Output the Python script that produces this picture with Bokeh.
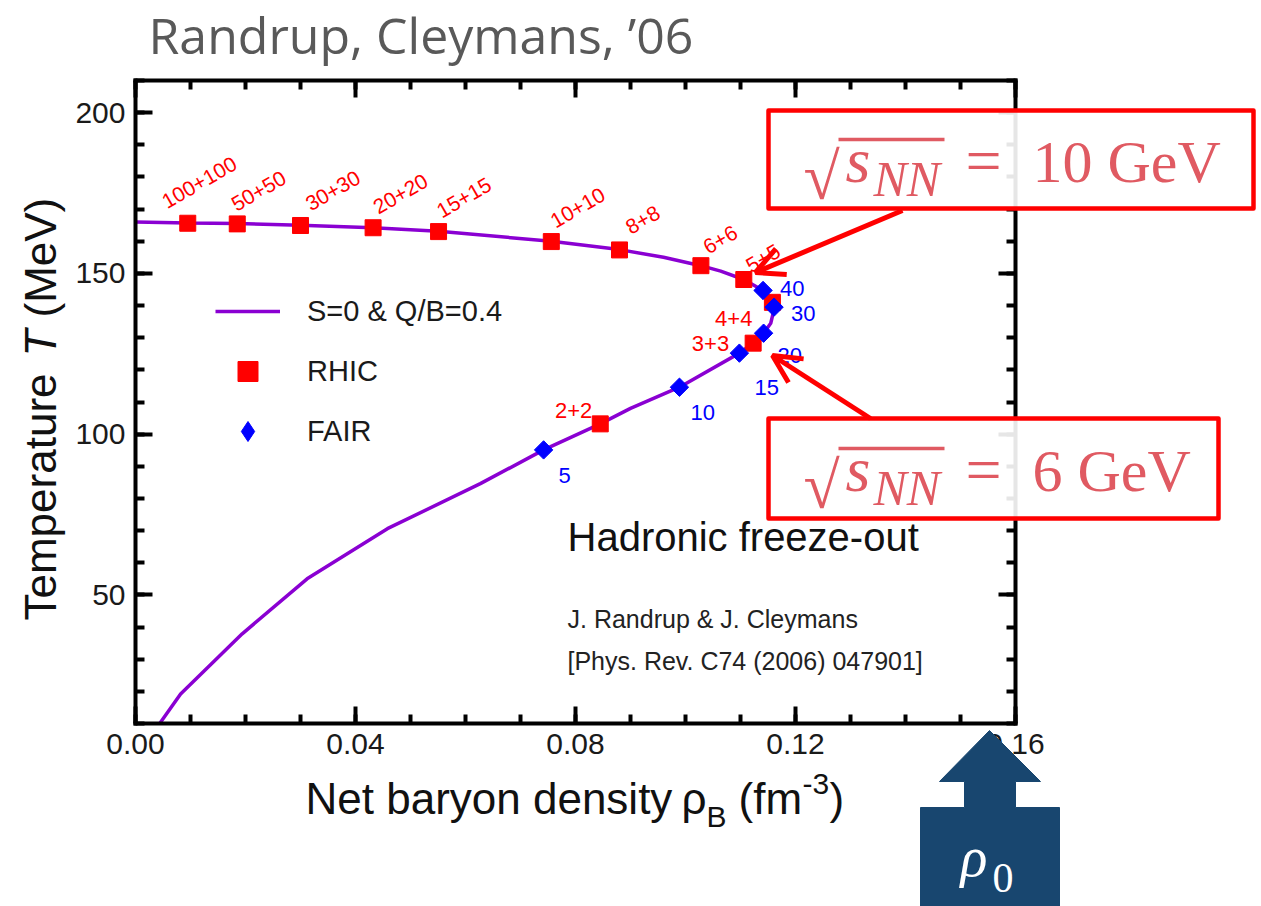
from math import cos, pi, sin

from bokeh.core.properties import value
from bokeh.embed import file_html
from bokeh.models import (Arrow, ColumnDataSource, Label, Legend, LegendItem, LinearAxis,
                          NumeralTickFormatter, OpenHead, PolyAnnotation, Range1d,
                          SingleIntervalTicker)
from bokeh.plotting import figure
from bokeh.resources import INLINE

# freeze-out curve S=0 & Q/B=0.4 (rho_B in fm^-3, T in MeV)
curve_rho = [0.0000, 0.0095, 0.0185, 0.0300, 0.0432, 0.0551, 0.0756, 0.0880, 0.0960,
             0.1028, 0.1064, 0.1106, 0.1141, 0.1158, 0.1162, 0.1155, 0.1142, 0.1123,
             0.1098, 0.0989, 0.0900, 0.0845, 0.0742, 0.0627, 0.0458, 0.0312, 0.0194,
             0.0082, 0.0044]
curve_T = [166.0, 165.7, 165.5, 165.0, 164.2, 163.1, 160.0, 157.4, 155.0,
           152.4, 150.7, 148.1, 144.7, 141.8, 139.5, 134.5, 131.4, 128.3,
           125.2, 114.6, 108.0, 103.2, 95.1, 84.6, 70.6, 55.0, 37.9,
           19.2, 10.0]

rhic_labels = ["100+100", "50+50", "30+30", "20+20", "15+15", "10+10", "8+8", "6+6",
               "5+5", "4+4", "3+3", "2+2"]
rhic_rho = [0.0095, 0.0185, 0.0300, 0.0432, 0.0551, 0.0756, 0.0880, 0.1028,
            0.1106, 0.1158, 0.1123, 0.0845]
rhic_T = [165.6, 165.4, 164.9, 164.2, 163.0, 159.9, 157.3, 152.4,
          148.1, 141.0, 128.3, 103.2]

fair_labels = ["40", "30", "20", "15", "10", "5"]
fair_rho = [0.1141, 0.1161, 0.1142, 0.1098, 0.0989, 0.0742]
fair_T = [144.7, 139.5, 131.4, 125.2, 114.6, 95.1]

x_ticks_step = 0.04
y_ticks_step = 50

# label placement relative to the markers, in pixels (right / down)
rhic_dx = [-24, -4, 7, 2, 0, 1, 8, 4, 4, -20, -24, -8]
rhic_dy = [-20, -18, -20, -19, -19, -19, -21, -17, -12, 16, 0, -13]
rhic_angle = [pi / 6] * 9 + [0] * 3
rhic_align = ["left"] * 9 + ["right"] * 3
rhic_size = ["21px"] * 9 + ["22px"] * 3
fair_dx = [17, 17, 14, 15, 11, 15]
fair_dy = [-2, 6, 22, 34, 25, 26]

W, H = 1261, 906
X_LO, X_HI = 0.0, 0.16
T_LO, T_HI = 10.0, 210.0
# edges of the plot box on the page, pixels
PX_L, PX_R, PX_T, PX_B = 135, 1015, 80, 723
SX = (X_HI - X_LO) / (PX_R - PX_L)
SY = (T_HI - T_LO) / (PX_B - PX_T)


def gx(px):
    return X_LO + (px - PX_L) * SX


def gy(py):
    return T_LO + (PX_B - py) * SY


# the frame fills the whole page; the box axes sit at fixed locations inside it
p = figure(frame_width=W, frame_height=H,
           x_range=Range1d(gx(0), gx(W)), y_range=Range1d(gy(H), gy(0)),
           toolbar_location=None, output_backend="svg", min_border=0,
           x_axis_type=None, y_axis_type=None)
p.grid.visible = False
p.outline_line_color = None
p.background_fill_color = "white"
p.border_fill_color = "white"

xt = SingleIntervalTicker(interval=x_ticks_step, num_minor_ticks=4)
yt = SingleIntervalTicker(interval=y_ticks_step, num_minor_ticks=5)
box_axes = [
    (LinearAxis(ticker=xt, formatter=NumeralTickFormatter(format="0.00"),
                fixed_location=T_LO, bounds=(X_LO, X_HI)), "below"),
    (LinearAxis(ticker=yt, fixed_location=X_LO, bounds=(T_LO, T_HI)), "left"),
    (LinearAxis(ticker=xt, fixed_location=T_HI, bounds=(X_LO, X_HI),
                major_label_text_color=None), "above"),
    (LinearAxis(ticker=yt, fixed_location=X_HI, bounds=(T_LO, T_HI),
                major_label_text_color=None), "right"),
]
for ax, side in box_axes:
    ax.axis_line_width = 4
    ax.axis_line_cap = "square"
    ax.major_tick_line_width = 4
    ax.minor_tick_line_width = 4
    ax.major_tick_in = 17
    ax.major_tick_out = 0
    ax.minor_tick_in = 9
    ax.minor_tick_out = 0
    ax.major_label_standoff = 10
    ax.major_label_text_font = "Liberation Sans"
    ax.major_label_text_font_size = "30px"
    ax.major_label_text_font_style = "normal"
    ax.major_label_text_color = ax.major_label_text_color and "#1a1a1a"
    p.add_layout(ax, side)

curve = p.line(curve_rho, curve_T, line_color="#8a00d2", line_width=3.5)
rhic = p.scatter(rhic_rho, rhic_T, marker="square", size=16, color="#ff0000")
fair = p.scatter(fair_rho, fair_T, marker="square", angle=pi / 4, size=13, color="#0000ff")
# legend keys ignore the marker angle, so the FAIR key comes from a hidden diamond copy
fair_key = p.scatter(fair_rho, fair_T, marker="diamond", size=13, color="#0000ff",
                     visible=False)

rhic_src = ColumnDataSource(dict(
    x=[r + d * SX for r, d in zip(rhic_rho, rhic_dx)],
    y=[t - d * SY for t, d in zip(rhic_T, rhic_dy)],
    text=rhic_labels, angle=rhic_angle, align=rhic_align, size=rhic_size))
p.text("x", "y", text="text", angle="angle", text_align="align", text_font_size="size",
       text_baseline="alphabetic", text_font=value("Liberation Sans"),
       text_color="#ff0000", source=rhic_src)
fair_src = ColumnDataSource(dict(
    x=[r + d * SX for r, d in zip(fair_rho, fair_dx)],
    y=[t - d * SY for t, d in zip(fair_T, fair_dy)],
    text=fair_labels))
p.text("x", "y", text="text", text_align="left", text_baseline="alphabetic",
       text_font=value("Liberation Sans"), text_font_size="22px",
       text_color="#0000ff", source=fair_src)

legend = Legend(items=[LegendItem(label="S=0 & Q/B=0.4", renderers=[curve]),
                       LegendItem(label="RHIC", renderers=[rhic]),
                       LegendItem(label="FAIR", renderers=[fair_key])],
                location=(215, H - 456), glyph_width=65, glyph_height=50, label_height=50,
                spacing=10, label_standoff=27, padding=0, margin=0,
                border_line_color=None, background_fill_alpha=0,
                inactive_fill_alpha=0,
                label_text_font="Liberation Sans", label_text_font_size="29px",
                label_text_color="#1a1a1a")
p.add_layout(legend)

# Label puts its "alphabetic" baseline lower than the glyph text does; measured drop per em
DROP = {"Liberation Sans": 0.39, "Open Sans": 0.41, "Liberation Serif": 0.35}


def note(px, py, text, size, color="#111111", font="Liberation Sans", style="normal",
         angle=0.0, align="left"):
    d = DROP[font] * size
    p.add_layout(Label(x=gx(px - d * sin(angle)), y=gy(py - d * cos(angle)), text=text,
                       text_font=font, text_font_size=f"{size}px", text_color=color,
                       text_font_style=style, angle=angle, text_align=align,
                       text_baseline="alphabetic"))


# title and axis titles
note(148, 55, "Randrup, Cleymans, \u201906", 50, color="#595959", font="Open Sans")
note(305, 815, "Net baryon density", 44)
note(681, 815, "\u03c1", 44)
note(706, 828, "B", 30)
note(738, 815, "(fm", 44)
note(802, 795, "-3", 30)
note(829, 815, ")", 44)
note(57, 620, "Temperature", 44, angle=pi / 2)
note(57, 356, "T", 44, style="italic", angle=pi / 2)
note(57, 317, "(MeV)", 44, angle=pi / 2)

note(567, 552, "Hadronic freeze-out", 40)
note(567, 628, "J. Randrup & J. Cleymans", 25, color="#222222")
note(567, 670, "[Phys. Rev. C74 (2006) 047901]", 25, color="#222222")

# callout boxes
RED = "#ff0000"
TXT = "#e05a62"
for (l, t, r, b) in [(768, 110, 1253, 208), (768, 418, 1218, 518)]:
    p.add_layout(PolyAnnotation(xs=[gx(l), gx(r), gx(r), gx(l)], ys=[gy(t), gy(t), gy(b), gy(b)],
                                fill_color="white", fill_alpha=0.9, line_color=RED,
                                line_alpha=1.0, line_width=4.5, line_join="round"))

for (x0, y0, x1, y1) in [(902, 210, 755, 272), (870, 418, 772, 355)]:
    p.add_layout(Arrow(end=OpenHead(size=28, line_color=RED, line_width=5),
                       x_start=gx(x0), y_start=gy(y0), x_end=gx(x1), y_end=gy(y1),
                       line_color=RED, line_width=5))

for shift, energy in [(0, "10 GeV"), (309, "6 GeV")]:
    note(803, 199 + shift, "\u221a", 66, color=TXT, font="Liberation Serif")
    note(845, 182 + shift, "s", 64, color=TXT, font="Liberation Serif", style="italic")
    note(873, 196 + shift, "NN", 50, color=TXT, font="Liberation Serif", style="italic")
    note(965, 182 + shift, "=", 64, color=TXT, font="Liberation Serif")
    note(1032, 182 + shift, energy, 60, color=TXT, font="Liberation Serif")
    p.add_layout(Arrow(start=None, end=None, x_start=gx(838), y_start=gy(139 + shift),
                       x_end=gx(944), y_end=gy(139 + shift), line_color=TXT, line_width=3.5))

# rho_0 marker below the axis
shape_px = [989, 1040, 1015, 1015, 1059, 1059, 920, 920, 964, 964, 939]
shape_py = [730, 781, 781, 807, 807, 906, 906, 807, 807, 781, 781]
p.add_layout(PolyAnnotation(xs=[gx(v) for v in shape_px], ys=[gy(v) for v in shape_py],
                            fill_color="#18466f", fill_alpha=1.0, line_color="#18466f",
                            line_alpha=1.0, line_width=1))
note(960, 876, "\u03c1", 56, color="white", font="Liberation Serif", style="italic")
note(992, 892, "0", 42, color="white", font="Liberation Serif")

open("out.html", "w").write(file_html(p, INLINE))
